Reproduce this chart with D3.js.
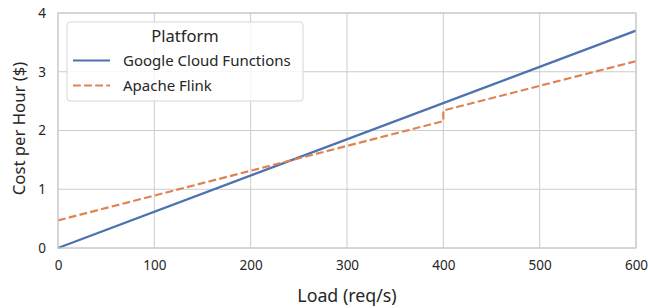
<!DOCTYPE html>
<html>
<head>
<meta charset="utf-8">
<script src="https://cdn.jsdelivr.net/npm/d3@7"></script>
<style>
  body { margin: 0; background: #fff; }
  text { font-family: "Noto Sans", sans-serif; fill: #262626; }
</style>
</head>
<body>
<div id="chart"></div>
<script>
// series
var gcfLoad = [0, 600];
var gcfCost = [0, 3.7];
var flinkLoad = [0, 400, 400, 600];
var flinkCost = [0.47, 2.16, 2.34, 3.18];
var seriesNames = ["Google Cloud Functions", "Apache Flink"];
var xTicks = [0, 100, 200, 300, 400, 500, 600];
var yTicks = [0, 1, 2, 3, 4];

var svgWidth = 648, svgHeight = 308;
var margin = {top: 13, right: 12, bottom: 60, left: 58};
var width = svgWidth - margin.left - margin.right;
var height = svgHeight - margin.top - margin.bottom;

var svg = d3.select("#chart").append("svg")
  .attr("width", svgWidth)
  .attr("height", svgHeight);

var chartGroup = svg.append("g")
  .attr("transform", `translate(${margin.left}, ${margin.top})`);

var xScale = d3.scaleLinear().domain([0, 600]).range([0, width]);
var yScale = d3.scaleLinear().domain([0, 4]).range([height, 0]);

// grid
chartGroup.append("g").selectAll("line")
  .data(xTicks).enter().append("line")
  .attr("x1", d => xScale(d)).attr("x2", d => xScale(d))
  .attr("y1", 0).attr("y2", height)
  .attr("stroke", "#cccccc").attr("stroke-width", 1);
chartGroup.append("g").selectAll("line")
  .data(yTicks).enter().append("line")
  .attr("x1", 0).attr("x2", width)
  .attr("y1", d => yScale(d)).attr("y2", d => yScale(d))
  .attr("stroke", "#cccccc").attr("stroke-width", 1);

// axes (labels only)
var xAxis = d3.axisBottom(xScale).tickValues(xTicks).tickSize(0).tickPadding(12).tickFormat(d3.format("d"));
var yAxis = d3.axisLeft(yScale).tickValues(yTicks).tickSize(0).tickPadding(12).tickFormat(d3.format("d"));

chartGroup.append("g")
  .attr("transform", `translate(0, ${height})`)
  .call(xAxis)
  .call(g => g.select(".domain").remove())
  .selectAll("text").style("font-size", "13.5px").attr("fill", "#262626");

chartGroup.append("g")
  .call(yAxis)
  .call(g => g.select(".domain").remove())
  .selectAll("text").style("font-size", "13.5px").attr("fill", "#262626");

// lines
var line = d3.line().x(d => xScale(d[0])).y(d => yScale(d[1]));
var gcf = gcfLoad.map((v, i) => [v, gcfCost[i]]);
var flink = flinkLoad.map((v, i) => [v, flinkCost[i]]);

chartGroup.append("path").datum(gcf)
  .attr("d", line).attr("fill", "none")
  .attr("stroke", "#4c72b0").attr("stroke-width", 2.2);

chartGroup.append("path").datum(flink)
  .attr("d", line).attr("fill", "none")
  .attr("stroke", "#dd8452").attr("stroke-width", 2.2)
  .attr("stroke-dasharray", "7.8,3.3");

// frame
chartGroup.append("rect")
  .attr("width", width).attr("height", height)
  .attr("fill", "none").attr("stroke", "#cccccc").attr("stroke-width", 1.25);

// axis titles
chartGroup.append("text")
  .attr("x", width / 2).attr("y", height + 54)
  .attr("text-anchor", "middle")
  .style("font-size", "17.8px")
  .text("Load (req/s)");

chartGroup.append("text")
  .attr("transform", "rotate(-90)")
  .attr("x", -height / 2 + 2).attr("y", -33)
  .attr("text-anchor", "middle")
  .style("font-size", "16.7px")
  .text("Cost per Hour ($)");

// legend
var legend = chartGroup.append("g").attr("transform", "translate(9, 9)");
legend.append("rect")
  .attr("width", 236).attr("height", 79).attr("rx", 3)
  .attr("fill", "#ffffff").attr("fill-opacity", 0.8)
  .attr("stroke", "#d6d6d6").attr("stroke-width", 1);
legend.append("text")
  .attr("x", 118).attr("y", 20)
  .attr("text-anchor", "middle")
  .style("font-size", "16.5px")
  .text("Platform");

var legColors = ["#4c72b0", "#dd8452"];
var legDash = [null, "7.8,3.3"];
seriesNames.forEach(function(name, i) {
  var y = 38.5 + i * 25;
  legend.append("line")
    .attr("x1", 6).attr("x2", 43).attr("y1", y).attr("y2", y)
    .attr("stroke", legColors[i]).attr("stroke-width", 2.2)
    .attr("stroke-dasharray", legDash[i]);
  legend.append("text")
    .attr("x", 56).attr("y", y + 5)
    .style("font-size", "15px")
    .text(name);
});
</script>
</body>
</html>
